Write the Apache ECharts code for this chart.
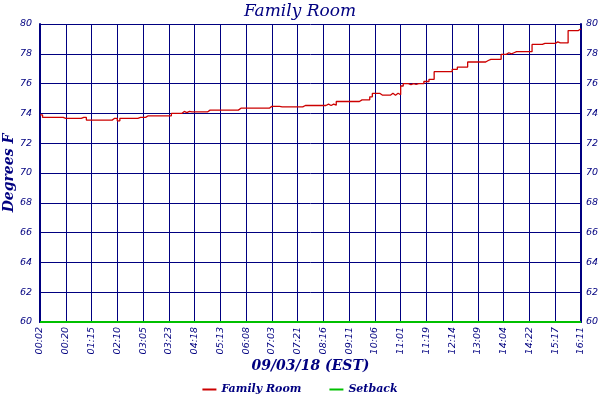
<!DOCTYPE html>
<html>
<head>
<meta charset="utf-8">
<script src="https://cdn.jsdelivr.net/npm/echarts@6/dist/echarts.min.js"></script>
<style>
  html, body { margin: 0; padding: 0; background: #fff; }
  #chart { width: 600px; height: 400px; }
</style>
</head>
<body>
<div id="chart"></div>
<script>
// tick labels along the time axis (one every 10 samples)
var timeTicks = [
  '00:02', '00:20', '01:15', '02:10', '03:05', '03:23', '04:18', '05:13',
  '06:08', '07:03', '07:21', '08:16', '09:11', '10:06', '11:01', '11:19',
  '12:14', '13:09', '14:04', '14:22', '15:17', '16:11'
];
var samplesPerTick = 10;

// Family Room temperature (deg F)
var familyRoom = [
  73.9, 73.73, 73.73, 73.73, 73.73, 73.73, 73.73, 73.73, 73.73, 73.67,
  73.67, 73.67, 73.67, 73.67, 73.67, 73.67, 73.73, 73.73, 73.55, 73.55,
  73.55, 73.55, 73.55, 73.55, 73.55, 73.55, 73.55, 73.55, 73.67, 73.67,
  73.5, 73.67, 73.67, 73.67, 73.67, 73.67, 73.67, 73.67, 73.73, 73.73,
  73.73, 73.84, 73.84, 73.84, 73.84, 73.84, 73.84, 73.84, 73.84, 73.84,
  73.84, 74.0, 74.0, 74.0, 74.0, 74.13, 74.05, 74.13, 74.1, 74.1,
  74.1, 74.1, 74.1, 74.1, 74.1, 74.22, 74.22, 74.22, 74.22, 74.22,
  74.22, 74.22, 74.22, 74.22, 74.22, 74.22, 74.22, 74.35, 74.35, 74.35,
  74.35, 74.35, 74.35, 74.35, 74.35, 74.35, 74.35, 74.35, 74.35, 74.47,
  74.47, 74.47, 74.47, 74.44, 74.44, 74.44, 74.44, 74.44, 74.44, 74.44,
  74.44, 74.44, 74.53, 74.53, 74.53, 74.53, 74.53, 74.53, 74.53, 74.53,
  74.53, 74.62, 74.53, 74.62, 74.55, 74.8, 74.8, 74.8, 74.8, 74.8,
  74.8, 74.8, 74.8, 74.8, 74.91, 74.91, 74.91, 74.91, 75.11, 75.34,
  75.34, 75.34, 75.22, 75.22, 75.22, 75.22, 75.35, 75.22, 75.35, 75.25,
  75.84, 76.0, 76.0, 75.93, 76.0, 75.95, 76.0, 76.0, 76.0, 76.14,
  76.14, 76.29, 76.29, 76.8, 76.8, 76.8, 76.8, 76.8, 76.8, 76.8,
  76.96, 76.96, 77.11, 77.11, 77.11, 77.11, 77.45, 77.45, 77.45, 77.45,
  77.45, 77.45, 77.45, 77.55, 77.63, 77.63, 77.63, 77.63, 77.63, 77.96,
  77.96, 78.07, 78.0, 78.07, 78.14, 78.14, 78.14, 78.14, 78.14, 78.14,
  78.14, 78.63, 78.63, 78.63, 78.63, 78.7, 78.7, 78.7, 78.7, 78.7,
  78.8, 78.73, 78.73, 78.73, 78.73, 79.56, 79.56, 79.56, 79.56, 79.68,
  79.7
];

// Setback temperature: flat at 60 from first to last sample
var setbackStart = 60;
var setbackEnd = 60;

var navy = '#000080';
var categories = [];
for (var i = 0; i < familyRoom.length; i++) {
  categories.push(i % samplesPerTick === 0 ? timeTicks[i / samplesPerTick] : '');
}

var tickFont = { color: navy, fontSize: 9.5, fontStyle: 'italic', fontFamily: 'DejaVu Sans' };

var yAxisBase = function (pos) {
  return {
    type: 'value',
    position: pos,
    min: 60,
    max: 80,
    interval: 2,
    axisLine: { show: true, lineStyle: { color: navy, width: 2 } },
    axisTick: { show: false },
    axisLabel: Object.assign({ margin: pos === 'left' ? 8 : 5 }, tickFont),
    splitLine: { show: pos === 'left', lineStyle: { color: navy, width: 1 } }
  };
};

var chart = echarts.init(document.getElementById('chart'));
chart.setOption({
  backgroundColor: '#fff',
  animation: false,
  title: {
    text: 'Family Room',
    left: 'center',
    top: -2,
    textStyle: { color: navy, fontSize: 17, fontStyle: 'italic', fontWeight: 'normal', fontFamily: 'DejaVu Serif' }
  },
  grid: { left: 40, right: 19, top: 24, bottom: 78, containLabel: false, outerBoundsMode: 'none' },
  legend: {
    bottom: 0,
    left: 'center',
    icon: 'rect',
    itemWidth: 14,
    itemHeight: 2,
    itemGap: 28,
    textStyle: { color: navy, fontSize: 11, fontStyle: 'italic', fontWeight: 'bold', fontFamily: 'DejaVu Serif' },
    data: ['Family Room', 'Setback']
  },
  xAxis: {
    type: 'category',
    boundaryGap: false,
    data: categories,
    name: '09/03/18 (EST)',
    nameLocation: 'middle',
    nameGap: 37,
    nameMoveOverlap: false,
    nameTextStyle: { color: navy, fontSize: 14, fontStyle: 'italic', fontWeight: 'bold', fontFamily: 'DejaVu Serif' },
    axisLine: { show: true, lineStyle: { color: navy, width: 2 } },
    axisTick: { show: false },
    axisLabel: Object.assign({ rotate: 90, interval: samplesPerTick - 1, margin: 5 }, tickFont),
    splitLine: { show: true, interval: samplesPerTick - 1, lineStyle: { color: navy, width: 1 } }
  },
  yAxis: [
    Object.assign(yAxisBase('left'), {
      name: 'Degrees F',
      nameLocation: 'middle',
      nameGap: 24,
      nameMoveOverlap: false,
      nameTextStyle: { color: navy, fontSize: 14, fontStyle: 'italic', fontWeight: 'bold', fontFamily: 'DejaVu Serif' }
    }),
    yAxisBase('right')
  ],
  series: [
    {
      name: 'Family Room',
      type: 'line',
      data: familyRoom,
      step: 'end',
      symbol: 'none',
      color: '#cc0000',
      lineStyle: { color: '#cc0000', width: 1.3 }
    },
    {
      name: 'Setback',
      type: 'line',
      data: [[0, setbackStart], [familyRoom.length - 1, setbackEnd]],
      symbol: 'none',
      color: '#00c000',
      lineStyle: { color: '#00c000', width: 2 },
      z: 5
    }
  ]
});
</script>
</body>
</html>
